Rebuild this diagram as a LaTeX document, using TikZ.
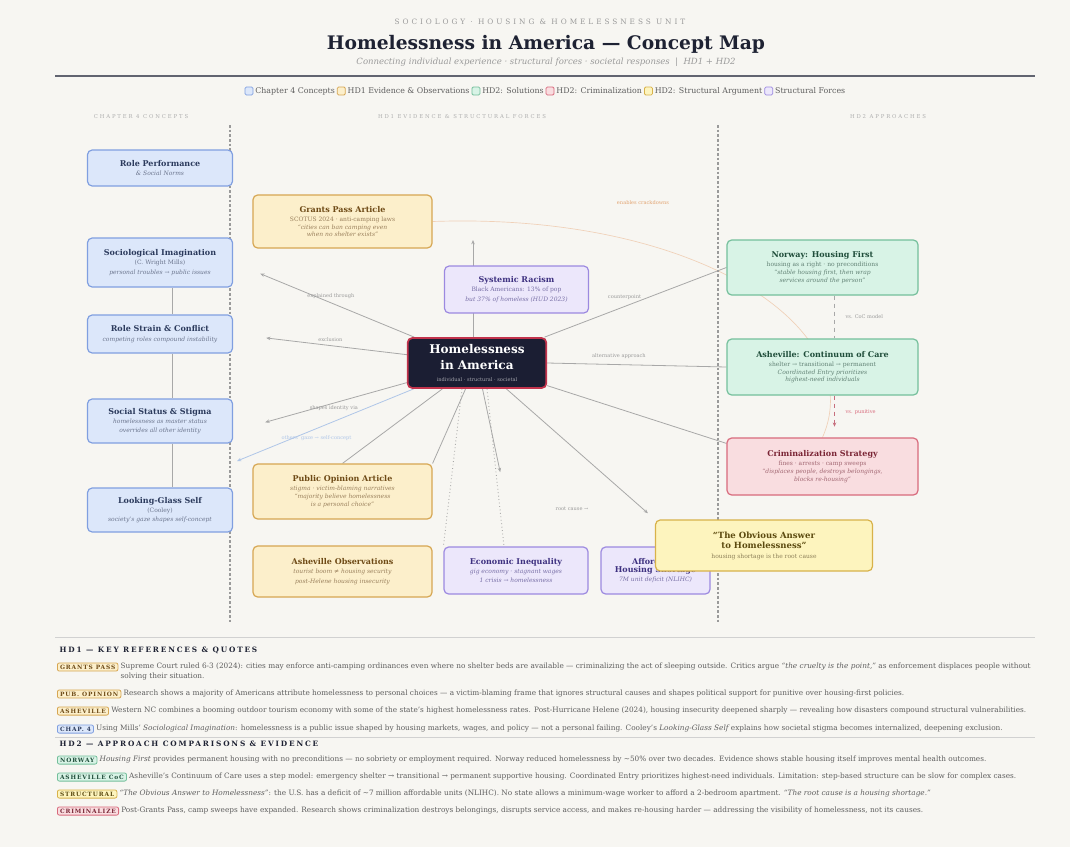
\documentclass[tikz,border=0pt]{standalone}
\usepackage{fontspec}
\setmainfont{DejaVu Serif}
\usepackage{xcolor}
\usepackage{tikz}
\usetikzlibrary{calc, positioning, arrows.meta, backgrounds}

\definecolor{bgpaper}{HTML}{F7F6F2}
\definecolor{ink}{HTML}{1E2233}
\definecolor{muted}{HTML}{9A9A9A}
\definecolor{rowgray}{HTML}{5E5E5E}
\definecolor{edgegray}{HTML}{A8A8A8}
\definecolor{bluefill}{HTML}{DCE7FA}
\definecolor{blueline}{HTML}{809FE0}
\definecolor{bluetext}{HTML}{2B3A5C}
\definecolor{yelfill}{HTML}{FCEFCB}
\definecolor{yelline}{HTML}{D6A652}
\definecolor{yeltext}{HTML}{6E4A16}
\definecolor{grnfill}{HTML}{D8F3E6}
\definecolor{grnline}{HTML}{74BF9B}
\definecolor{grntext}{HTML}{1F4D3A}
\definecolor{redfill}{HTML}{F9DDE0}
\definecolor{redline}{HTML}{D86A7C}
\definecolor{redtext}{HTML}{7A2535}
\definecolor{purfill}{HTML}{ECE7FB}
\definecolor{purline}{HTML}{9C89E0}
\definecolor{purtext}{HTML}{3E3180}
\definecolor{strfill}{HTML}{FDF4BE}
\definecolor{strline}{HTML}{D8B24A}
\definecolor{strtext}{HTML}{5C4A10}
\definecolor{hubfill}{HTML}{1B1E33}
\definecolor{hubline}{HTML}{C2334C}
\definecolor{orangelbl}{HTML}{E2A472}
\definecolor{gazeblue}{HTML}{AFC6E8}

\newcommand{\boxhead}[1]{{\fontsize{6}{7}\selectfont\bfseries #1}}
\newcommand{\boxsub}[1]{{\color{.!70!white}#1}}

\begin{document}
\begin{tikzpicture}[x=0.75pt, y=-0.75pt, >={Stealth[length=3.2pt, width=2.6pt]},
    box/.style={rounded corners=3.5pt, line width=0.9pt, align=center, inner sep=2pt,
        font=\fontsize{4.5}{7}\selectfont},
    concept/.style={box, draw=blueline, fill=bluefill, text=bluetext, minimum width=108.75pt},
    evidence/.style={box, draw=yelline, fill=yelfill, text=yeltext, minimum width=134.25pt},
    force/.style={box, draw=purline, fill=purfill, text=purtext, minimum width=108pt},
    solution/.style={box, draw=grnline, fill=grnfill, text=grntext, minimum width=143.25pt},
    punitive/.style={box, draw=redline, fill=redfill, text=redtext, minimum width=143.25pt},
    argument/.style={box, draw=strline, fill=strfill, text=strtext, minimum width=162.75pt},
    hub/.style={box, draw=hubline, fill=hubfill, text=white, line width=1.3pt,
        minimum width=104pt, minimum height=37.5pt, font=\fontsize{9}{12}\selectfont\bfseries},
    edge/.style={draw=edgegray, line width=0.6pt},
    lbl/.style={font=\fontsize{3.8}{4.5}\selectfont, text=muted, inner sep=1pt},
    colhead/.style={font=\fontsize{4}{5}\selectfont\addfontfeatures{LetterSpace=35}, text=muted!80},
    legbox/.style={draw, line width=0.6pt, rounded corners=1pt, minimum size=6pt, inner sep=0pt},
    legtxt/.style={font=\fontsize{5.9}{6.5}\selectfont, text=rowgray, inner sep=0.8pt},
    tag/.style={rounded corners=1.5pt, line width=0.6pt, inner xsep=2pt, inner ysep=1.4pt,
        font=\fontsize{4.4}{5}\selectfont\bfseries\addfontfeatures{LetterSpace=15}},
    rowtxt/.style={font=\fontsize{5.5}{6.5}\selectfont, text=rowgray, inner sep=1pt, anchor=west},
    sechead/.style={font=\fontsize{5.5}{6}\selectfont\bfseries\addfontfeatures{LetterSpace=25},
        text=ink, anchor=west}]

    % Nền
    \useasboundingbox (0,0) rectangle (1070,847);

    % Tiêu đề
    \node[font=\fontsize{5.5}{6}\selectfont\addfontfeatures{LetterSpace=40}, text=muted] (kicker)
        at (540,22) {SOCIOLOGY · HOUSING \& HOMELESSNESS UNIT};
    \node[font=\fontsize{14}{16}\selectfont\bfseries, text=ink] (title)
        at (546,44) {Homelessness in America — Concept Map};
    \node[font=\fontsize{6.4}{7}\selectfont\itshape, text=muted] (subtitle)
        at (546,62) {Connecting individual experience · structural forces · societal responses \ | \ HD1 + HD2};
    \draw[line width=1.5pt, draw=ink!70] (55,76) -- (1035,76);

    % Chú thích
    \node[legbox, draw=blueline, fill=bluefill] (k1) at (249,91) {};
    \node[legtxt, right=0.5pt of k1] (k1t) {Chapter 4 Concepts};
    \node[legbox, draw=yelline, fill=yelfill, right=0.5pt of k1t] (k2) {};
    \node[legtxt, right=0.5pt of k2] (k2t) {HD1 Evidence \& Observations};
    \node[legbox, draw=grnline, fill=grnfill, right=0.5pt of k2t] (k3) {};
    \node[legtxt, right=0.5pt of k3] (k3t) {HD2: Solutions};
    \node[legbox, draw=redline, fill=redfill, right=0.5pt of k3t] (k4) {};
    \node[legtxt, right=0.5pt of k4] (k4t) {HD2: Criminalization};
    \node[legbox, draw=strline, fill=strfill, right=0.5pt of k4t] (k5) {};
    \node[legtxt, right=0.5pt of k5] (k5t) {HD2: Structural Argument};
    \node[legbox, draw=purline, fill=purfill, right=0.5pt of k5t] (k6) {};
    \node[legtxt, right=0.5pt of k6] (k6t) {Structural Forces};

    % Cột
    \node[colhead] (hleft) at (141,117) {CHAPTER 4 CONCEPTS};
    \node[colhead] (hmid) at (462,117) {HD1 EVIDENCE \& STRUCTURAL FORCES};
    \node[colhead] (hright) at (888,117) {HD2 APPROACHES};
    \draw[muted, line width=0.8pt, dash pattern=on 2pt off 1.5pt] (230,125) -- (230,622);
    \draw[muted, line width=0.8pt, dash pattern=on 2pt off 1.5pt] (718,125) -- (718,622);

    % Nút trung tâm
    \node[hub] (home) at (477,363) {Homelessness\\in America\\[-3.5pt]
        {\fontsize{3.8}{4}\selectfont\mdseries\color{white!60!hubfill} individual · structural · societal}};
    \coordinate (racetop) at (473,240);

    % Cột trái
    \node[concept, minimum height=27pt] (rp) at (160,168)
        {\boxhead{Role Performance}\\\boxsub{\itshape \& Social Norms}};
    \node[concept, minimum height=36.75pt] (si) at (160,262.5)
        {\boxhead{Sociological Imagination}\\\boxsub{(C. Wright Mills)}\\\boxsub{\itshape personal troubles → public issues}};
    \node[concept, minimum height=28.5pt] (rs) at (160,334)
        {\boxhead{Role Strain \& Conflict}\\\boxsub{\itshape competing roles compound instability}};
    \node[concept, minimum height=33pt] (ss) at (160,421)
        {\boxhead{Social Status \& Stigma}\\\boxsub{\itshape homelessness as master status}\\\boxsub{\itshape overrides all other identity}};
    \node[concept, minimum height=33pt] (lg) at (160,510)
        {\boxhead{Looking-Glass Self}\\\boxsub{(Cooley)}\\\boxsub{\itshape society's gaze shapes self-concept}};
    \draw[edge] ($(si.south)+(12,0)$) -- ($(rs.north)+(12,0)$);
    \draw[edge] ($(rs.south)+(12,0)$) -- ($(ss.north)+(12,0)$);
    \draw[edge] ($(ss.south)+(12,0)$) -- ($(lg.north)+(12,0)$);

    % Cột giữa
    \node[evidence, minimum height=39.75pt] (gp) at (342.5,221.5)
        {\boxhead{Grants Pass Article}\\\boxsub{SCOTUS 2024 · anti-camping laws}\\[-1pt]
        \boxsub{\itshape “cities can ban camping even}\\[-1.5pt]\boxsub{\itshape when no shelter exists”}};
    \node[force, minimum height=35.25pt] (sr) at (516.5,289.5)
        {\boxhead{Systemic Racism}\\\boxsub{Black Americans: 13\% of pop}\\\boxsub{\itshape but 37\% of homeless (HUD 2023)}};
    \node[evidence, minimum height=41.25pt] (po) at (342.5,491.5)
        {\boxhead{Public Opinion Article}\\\boxsub{\itshape stigma · victim-blaming narratives}\\[-1pt]
        \boxsub{\itshape “majority believe homelessness}\\[-1.5pt]\boxsub{\itshape is a personal choice”}};
    \node[evidence, minimum height=38.25pt] (ao) at (342.5,571.5)
        {\boxhead{Asheville Observations}\\\boxsub{\itshape tourist boom ≠ housing security}\\\boxsub{\itshape post-Helene housing insecurity}};
    \node[force, minimum height=35.25pt] (ei) at (516,570.5)
        {\boxhead{Economic Inequality}\\\boxsub{\itshape gig economy · stagnant wages}\\\boxsub{\itshape 1 crisis → homelessness}};
    \node[force, minimum width=81.75pt, minimum height=35.25pt] (ah) at (655.5,570.5)
        {\boxhead{Affordable}\\[-1pt]\boxhead{Housing Shortage}\\\boxsub{\itshape 7M unit deficit (NLIHC)}};
    \node[argument, minimum height=38.25pt] (oa) at (764,545.5)
        {{\fontsize{6.4}{7}\selectfont\bfseries “The Obvious Answer}\\[1pt]{\fontsize{6.4}{7}\selectfont\bfseries to Homelessness”}\\
        \boxsub{housing shortage is the root cause}};

    % Cột phải
    \node[solution, minimum height=41.25pt] (nw) at (822.5,267.5)
        {\boxhead{Norway: Housing First}\\\boxsub{housing as a right · no preconditions}\\[-1pt]
        \boxsub{\itshape “stable housing first, then wrap}\\[-1.5pt]\boxsub{\itshape services around the person”}};
    \node[solution, minimum height=42pt] (cc) at (822.5,367)
        {\boxhead{Asheville: Continuum of Care}\\\boxsub{shelter → transitional → permanent}\\[-1pt]
        \boxsub{\itshape Coordinated Entry prioritizes}\\[-1.5pt]\boxsub{\itshape highest-need individuals}};
    \node[punitive, minimum height=42.75pt] (cr) at (822.5,466.5)
        {\boxhead{Criminalization Strategy}\\\boxsub{fines · arrests · camp sweeps}\\[-1pt]
        \boxsub{\itshape “displaces people, destroys belongings,}\\[-1.5pt]\boxsub{\itshape blocks re-housing”}};

    % Cạnh nối (nằm dưới các nút)
    \begin{scope}[on background layer]
    \fill[bgpaper] (0,0) rectangle (1070,847);
    \draw[edge, ->] (home.north -| racetop) -- (racetop);
    \draw[edge, ->, shorten >=22pt] (home) -- (si.east)
        node[lbl, pos=0.46, above=2pt] {explained through};
    \draw[edge, ->, shorten >=25pt] (home) -- (rs.east)
        node[lbl, pos=0.44, above=2pt] {exclusion};
    \draw[edge, ->, shorten >=25pt] (home) -- (ss.-8)
        node[lbl, pos=0.42, below=1pt] {shapes identity via};
    \coordinate (gazeend) at (237,461);
    \draw[edge, draw=gazeblue, ->] (home) -- (gazeend)
        node[lbl, text=gazeblue, pos=0.55, below=4pt] {others' gaze → self-concept};
    \draw[edge] (home) -- (po.north);
    \draw[edge] (home) -- (po.north east);
    \draw[edge, dotted, line width=0.7pt] ($(home.south)+(-15,0)$) -- (ei.north west);
    \draw[edge, dotted, line width=0.7pt] ($(home.south)+(10,0)$) -- ($(ei.north)+(-12,0)$);
    \draw[edge, ->, shorten >=57pt] (home) -- (ei.north);
    \draw[edge, ->, shorten >=7pt] (home) -- (oa.north west);
    \node[lbl] (rootlbl) at (572,509) {root cause →};
    \draw[edge] (home) -- (nw.west)
        node[lbl, pos=0.44, above=4pt] {counterpoint};
    \draw[edge] (home.east) -- (cc.west)
        node[lbl, pos=0.4, above=3pt] {alternative approach};
    \draw[edge] (home) -- ($(cr.north west)+(0,6)$);
    \draw[edge, draw=orangelbl!50, line width=0.5pt] (gp.east) .. controls (700,212) and (870,330) .. (cr.north);
    \node[lbl, text=orangelbl] (enablbl) at (643,203) {enables crackdowns};
    \draw[edge, dashed] ($(nw.south)+(12,0)$) -- ($(cc.north)+(12,0)$)
        node[lbl, midway, right=7pt] {vs. CoC model};
    \draw[edge, draw=redline!80!gray, dashed, ->, shorten >=8pt] ($(cc.south)+(12,0)$) -- ($(cr.north)+(12,0)$)
        node[lbl, text=redline, pos=0.4, right=7pt] {vs. punitive};
    \end{scope}

    % Ghi chú HD1
    \draw[draw=black!18, line width=0.6pt] (55,637) -- (1035,637);
    \node[sechead] (hdone) at (55,650) {HD1 — KEY REFERENCES \& QUOTES};
    \node[tag, draw=yelline, fill=yelfill, text=yeltext, anchor=west] (tgp) at (57,667) {GRANTS PASS};
    \node[rowtxt, right=0.5pt of tgp] (rgp) {Supreme Court ruled 6-3 (2024): cities may enforce anti-camping ordinances even where no shelter beds are available — criminalizing the act of sleeping outside. Critics argue {\itshape “the cruelty is the point,”} as enforcement displaces people without};
    \node[rowtxt, anchor=north west] (rgpb) at ($(rgp.south west)+(0,-1)$) {solving their situation.};
    \node[tag, draw=yelline, fill=yelfill, text=yeltext, anchor=west] (tpo) at (57,694) {PUB. OPINION};
    \node[rowtxt, right=0.5pt of tpo] (rpo) {Research shows a majority of Americans attribute homelessness to personal choices — a victim-blaming frame that ignores structural causes and shapes political support for punitive over housing-first policies.};
    \node[tag, draw=yelline, fill=yelfill, text=yeltext, anchor=west] (tav) at (57,711) {ASHEVILLE};
    \node[rowtxt, right=0.5pt of tav] (rav) {Western NC combines a booming outdoor tourism economy with some of the state's highest homelessness rates. Post-Hurricane Helene (2024), housing insecurity deepened sharply — revealing how disasters compound structural vulnerabilities.};
    \node[tag, draw=blueline, fill=bluefill, text=bluetext, anchor=west] (tch) at (57,729) {CHAP. 4};
    \node[rowtxt, right=0.5pt of tch] (rch) {Using Mills' {\itshape Sociological Imagination}: homelessness is a public issue shaped by housing markets, wages, and policy — not a personal failing. Cooley's {\itshape Looking-Glass Self} explains how societal stigma becomes internalized, deepening exclusion.};

    % Ghi chú HD2
    \draw[draw=black!18, line width=0.6pt] (55,737) -- (1035,737);
    \node[sechead] (hdtwo) at (55,744) {HD2 — APPROACH COMPARISONS \& EVIDENCE};
    \node[tag, draw=grnline, fill=grnfill, text=grntext, anchor=west] (tnw) at (57,760) {NORWAY};
    \node[rowtxt, right=0.5pt of tnw] (rnw) {{\itshape Housing First} provides permanent housing with no preconditions — no sobriety or employment required. Norway reduced homelessness by \textasciitilde50\% over two decades. Evidence shows stable housing itself improves mental health outcomes.};
    \node[tag, draw=grnline, fill=grnfill, text=grntext, anchor=west] (tcc) at (57,777) {ASHEVILLE CoC};
    \node[rowtxt, right=0.5pt of tcc] (rcc) {Asheville's Continuum of Care uses a step model: emergency shelter → transitional → permanent supportive housing. Coordinated Entry prioritizes highest-need individuals. Limitation: step-based structure can be slow for complex cases.};
    \node[tag, draw=strline, fill=strfill, text=strtext, anchor=west] (tst) at (57,794) {STRUCTURAL};
    \node[rowtxt, right=0.5pt of tst] (rst) {{\itshape “The Obvious Answer to Homelessness”}: the U.S. has a deficit of \textasciitilde7 million affordable units (NLIHC). No state allows a minimum-wage worker to afford a 2-bedroom apartment. {\itshape “The root cause is a housing shortage.”}};
    \node[tag, draw=redline, fill=redfill, text=redtext, anchor=west] (tcr) at (57,811) {CRIMINALIZE};
    \node[rowtxt, right=0.5pt of tcr] (rcr) {Post-Grants Pass, camp sweeps have expanded. Research shows criminalization destroys belongings, disrupts service access, and makes re-housing harder — addressing the visibility of homelessness, not its causes.};
\end{tikzpicture}
\end{document}
